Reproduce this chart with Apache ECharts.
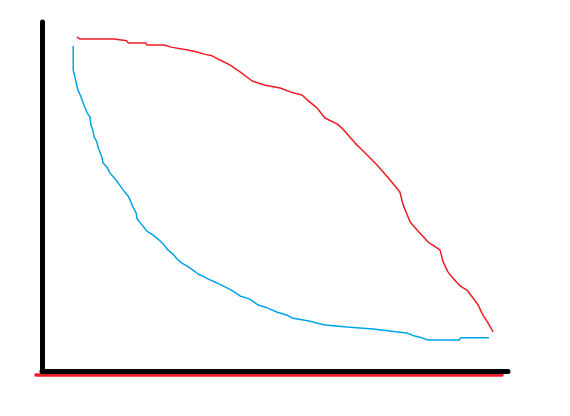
<!DOCTYPE html>
<html>
<head>
<meta charset="utf-8">
<script src="https://cdn.jsdelivr.net/npm/echarts@6/dist/echarts.min.js"></script>
<style>html,body{margin:0;padding:0;background:#fff;}#c{width:570px;height:416px;}</style>
</head>
<body>
<div id="c"></div>
<script>
// Red curve (x, y) in arbitrary 0-100 units
var redX = [7.5, 8.2, 15.5, 15.7, 18.2, 18.5, 22.3, 22.5, 26.2, 27.7, 31.3, 33.3, 34.8, 36.5, 38.2, 40.3, 42.5, 45.1, 47.9, 51.1, 53.9, 55.8, 56.9, 59.0, 60.7, 63.3, 64.6, 66.1, 67.2, 68.7, 71.9, 74.7, 76.8, 77.5, 79.0, 80.5, 82.8, 85.4, 86.1, 87.1, 88.2, 89.7, 91.2, 92.5, 93.6, 94.4, 95.7, 96.8];
var redY = [95.7, 95.1, 95.1, 94.6, 94.6, 94.0, 94.0, 93.4, 93.4, 92.8, 92.0, 91.4, 90.8, 90.3, 89.1, 87.7, 85.7, 83.1, 81.9, 81.1, 79.7, 79.1, 77.7, 75.4, 72.5, 70.8, 69.3, 67.0, 65.3, 63.3, 59.0, 54.7, 51.3, 47.6, 42.7, 40.4, 37.0, 34.7, 31.2, 28.4, 26.6, 24.4, 23.2, 20.9, 18.9, 16.6, 13.8, 11.2];
// Blue curve
var blueX = [6.7, 6.7, 7.1, 7.3, 7.7, 8.2, 8.6, 9.0, 9.7, 10.3, 10.5, 10.9, 11.2, 11.8, 12.0, 12.4, 12.9, 13.1, 13.9, 14.6, 15.9, 17.4, 18.5, 19.1, 19.5, 20.2, 20.4, 21.5, 22.5, 23.8, 24.9, 26.0, 27.0, 28.1, 29.0, 30.0, 31.1, 32.4, 33.5, 34.5, 35.6, 37.6, 39.3, 41.0, 42.5, 44.6, 46.4, 48.3, 50.4, 52.6, 53.6, 57.3, 60.7, 65.5, 71.0, 76.4, 78.3, 80.0, 81.5, 82.8, 89.5, 89.9, 95.9];
var blueY = [93.1, 86.2, 85.7, 82.8, 80.5, 79.1, 77.7, 76.2, 73.9, 72.8, 70.5, 69.1, 67.0, 65.6, 64.2, 62.8, 61.0, 59.6, 58.5, 56.7, 54.7, 51.9, 50.1, 48.4, 47.0, 45.3, 43.6, 41.8, 40.1, 39.0, 37.8, 36.4, 34.7, 33.5, 32.1, 30.9, 30.1, 28.9, 27.8, 27.2, 26.4, 25.2, 24.1, 22.9, 21.5, 20.6, 18.9, 18.1, 16.9, 16.0, 15.2, 14.3, 13.2, 12.6, 12.0, 11.2, 10.9, 10.0, 9.5, 8.9, 8.9, 9.5, 9.5];

function zip(xs, ys){ var o=[]; for(var i=0;i<xs.length;i++) o.push([xs[i], ys[i]]); return o; }

var chart = echarts.init(document.getElementById('c'), null, {renderer:'canvas'});
var hidden = {show:false};
chart.setOption({
  animation:false,
  backgroundColor:'#ffffff',
  grid:[
    {left:42, right:62, top:22, bottom:45},
    {left:36, right:68, top:22, bottom:41}
  ],
  xAxis:[
    {type:'value', gridIndex:0, min:0, max:100, z:5,
     axisLine:{show:true, onZero:false, lineStyle:{color:'#000', width:5, cap:'round'}},
     axisTick:hidden, axisLabel:hidden, splitLine:hidden},
    {type:'value', gridIndex:1, min:0, max:100, z:1,
     axisLine:{show:true, onZero:false, lineStyle:{color:'#ed1c24', width:3.5, cap:'round'}},
     axisTick:hidden, axisLabel:hidden, splitLine:hidden}
  ],
  yAxis:[
    {type:'value', gridIndex:0, min:0, max:100, z:5,
     axisLine:{show:true, onZero:false, lineStyle:{color:'#000', width:5, cap:'round'}},
     axisTick:hidden, axisLabel:hidden, splitLine:hidden},
    {type:'value', gridIndex:1, min:0, max:100, show:false}
  ],
  series:[
    {type:'line', xAxisIndex:0, yAxisIndex:0, data:zip(redX, redY), symbol:'none',
     lineStyle:{color:'#ed1c24', width:1.5}},
    {type:'line', xAxisIndex:0, yAxisIndex:0, data:zip(blueX, blueY), symbol:'none',
     lineStyle:{color:'#00a2e8', width:1.5}}
  ]
});
</script>
</body>
</html>
